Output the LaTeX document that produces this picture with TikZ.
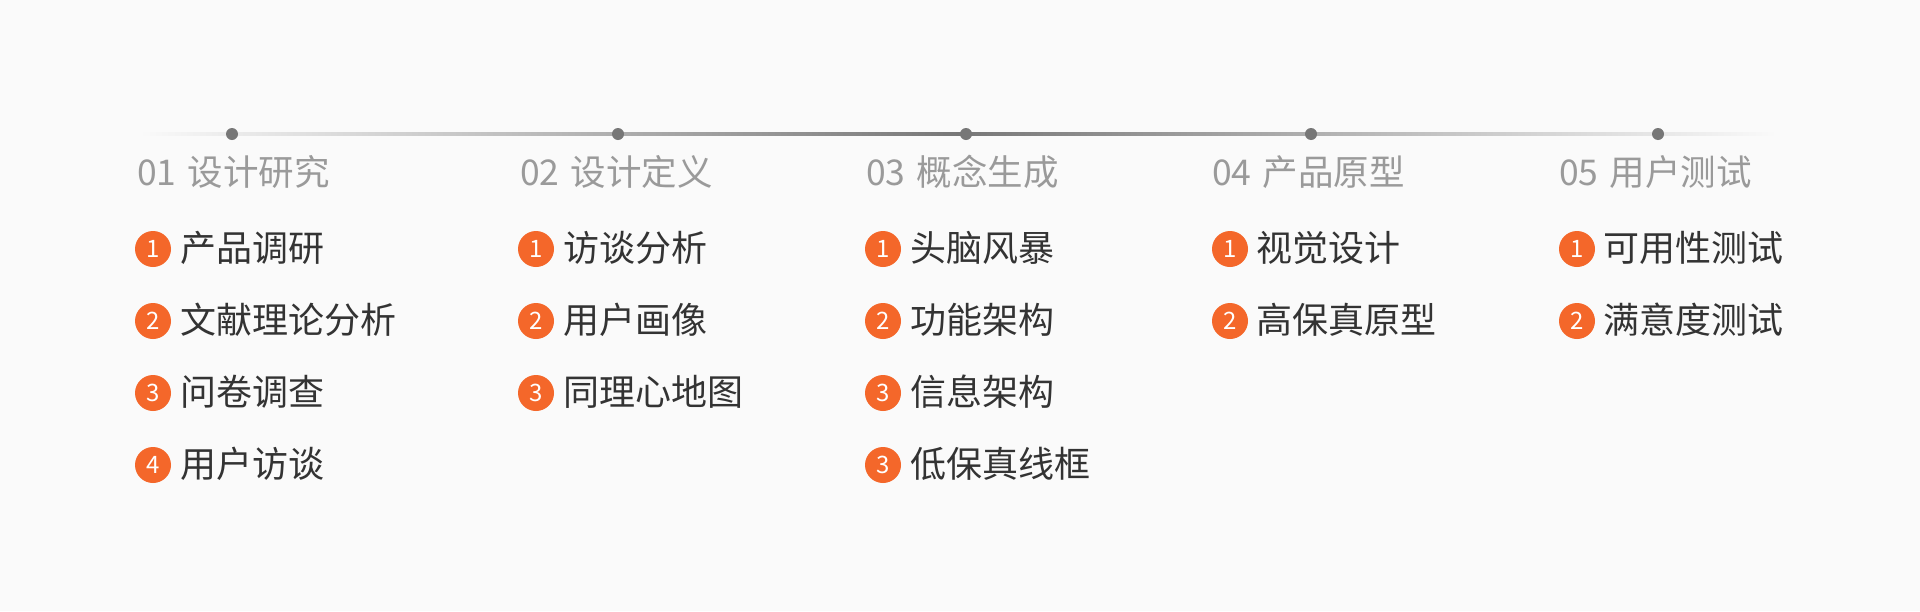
\documentclass[tikz,border=0pt]{standalone}
\usepackage{fontspec}
\newfontfamily\cjk{Noto Sans CJK SC}
\definecolor{bg}{HTML}{FAFAFA}
\definecolor{linemid}{HTML}{777777}
\definecolor{dotc}{HTML}{777777}
\definecolor{headc}{HTML}{9A9A9A}
\definecolor{itemc}{HTML}{333333}
\definecolor{orng}{HTML}{F4672A}
\tikzset{
  dotnode/.style={circle,fill=dotc,minimum size=12pt,inner sep=0pt},
  headtxt/.style={anchor=base west,inner sep=0pt,text=headc,font=\cjk\fontsize{35.5pt}{35.5pt}\selectfont},
  itemtxt/.style={anchor=base west,inner sep=0pt,text=itemc,font=\cjk\fontsize{36pt}{36pt}\selectfont},
  badge/.style={circle,fill=orng,minimum size=36pt,inner sep=0pt,text=white,font=\cjk\fontsize{24pt}{24pt}\selectfont}
}
\begin{document}
\begin{tikzpicture}[x=1pt,y=-1pt]
\useasboundingbox[fill=bg] (0,0) rectangle (1920,611);
% timeline
\coordinate (ls) at (140,134);
\coordinate (le) at (1777,134);
\shade[left color=bg,right color=bg,middle color=linemid] ([yshift=-1.5pt]ls) rectangle ([yshift=1.5pt]le);
\node[dotnode] (d1) at (232,134) {};
\node[dotnode] (d2) at (618,134) {};
\node[dotnode] (d3) at (966,134) {};
\node[dotnode] (d4) at (1311,134) {};
\node[dotnode] (d5) at (1658,134) {};
% headers
\node[headtxt] (h1) at (137,185) {01\hspace{3pt} 设计研究};
\node[headtxt] (h2) at (520,185) {02\hspace{3pt} 设计定义};
\node[headtxt] (h3) at (866,185) {03\hspace{3pt} 概念生成};
\node[headtxt] (h4) at (1212,185) {04\hspace{3pt} 产品原型};
\node[headtxt] (h5) at (1559,185) {05\hspace{3pt} 用户测试};
% column 1
\node[badge] (b11) at (153,249) {1};
\node[itemtxt] (t11) at (180,261) {产品调研};
\node[badge] (b12) at (153,321) {2};
\node[itemtxt] (t12) at (180,333) {文献理论分析};
\node[badge] (b13) at (153,393) {3};
\node[itemtxt] (t13) at (180,405) {问卷调查};
\node[badge] (b14) at (153,465) {4};
\node[itemtxt] (t14) at (180,477) {用户访谈};
% column 2
\node[badge] (b21) at (536,249) {1};
\node[itemtxt] (t21) at (563,261) {访谈分析};
\node[badge] (b22) at (536,321) {2};
\node[itemtxt] (t22) at (563,333) {用户画像};
\node[badge] (b23) at (536,393) {3};
\node[itemtxt] (t23) at (563,405) {同理心地图};
% column 3
\node[badge] (b31) at (883,249) {1};
\node[itemtxt] (t31) at (910,261) {头脑风暴};
\node[badge] (b32) at (883,321) {2};
\node[itemtxt] (t32) at (910,333) {功能架构};
\node[badge] (b33) at (883,393) {3};
\node[itemtxt] (t33) at (910,405) {信息架构};
\node[badge] (b34) at (883,465) {3};
\node[itemtxt] (t34) at (910,477) {低保真线框};
% column 4
\node[badge] (b41) at (1230,249) {1};
\node[itemtxt] (t41) at (1256,261) {视觉设计};
\node[badge] (b42) at (1230,321) {2};
\node[itemtxt] (t42) at (1256,333) {高保真原型};
% column 5
\node[badge] (b51) at (1577,249) {1};
\node[itemtxt] (t51) at (1603,261) {可用性测试};
\node[badge] (b52) at (1577,321) {2};
\node[itemtxt] (t52) at (1603,333) {满意度测试};
\end{tikzpicture}
\end{document}
